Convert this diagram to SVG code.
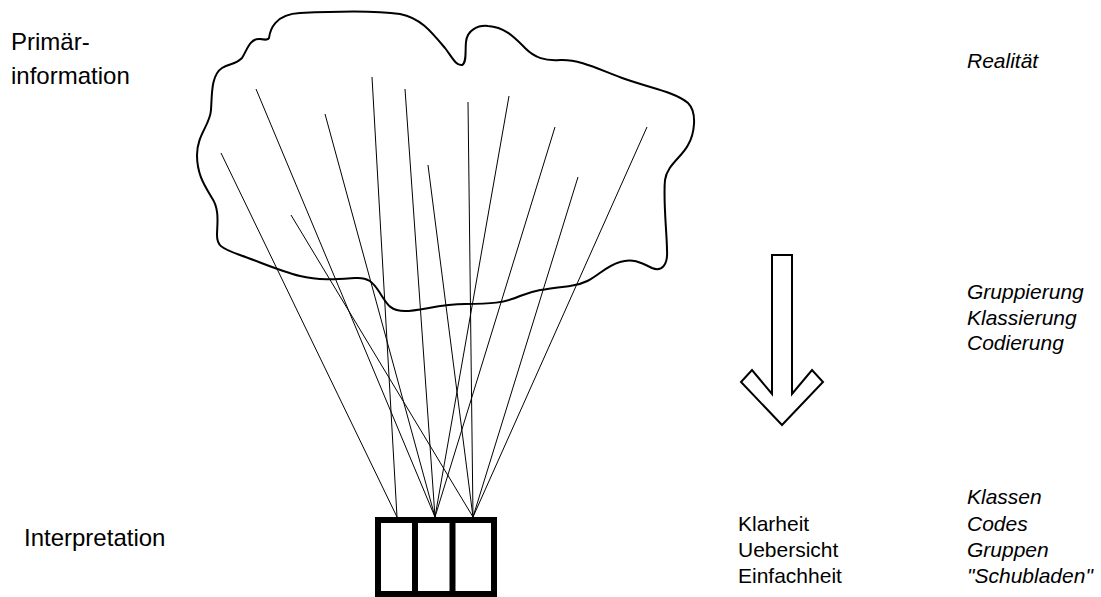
<svg xmlns="http://www.w3.org/2000/svg" width="1101" height="597" viewBox="0 0 1101 597">
<style>
.lbl{font-family:"Liberation Sans",Arial,sans-serif;font-size:24px;fill:#000}
.txt{font-family:"Liberation Sans",Arial,sans-serif;font-size:21px;fill:#000}
.it{font-style:italic}
.ray{stroke:#000;stroke-width:1;fill:none}
</style>
<rect width="1101" height="597" fill="#fff"/>
<g id="cloud">
<path d="M300,13 C340,11 380,11 400,14 C420,18 430,30 445,48 C452,57 456,66 462,65 C467,63 465,50 466,42 C467,30 478,25 488,26 C505,27 515,38 525,48 C535,58 545,61 560,60 C580,59 600,70 625,79 C650,88 675,92 688,103 C698,113 694,135 688,145 C682,157 667,165 665,180 C663,200 667,235 667,250 C668,265 662,272 652,268 C640,262 632,258 620,262 C600,268 595,283 570,286 C545,289 535,290 520,296 C505,303 490,304 465,304 C440,304 420,311 405,311 C390,311 387,304 380,293 C373,282 368,277 355,278 C340,279 320,281 300,276 C280,271 260,262 240,255 C220,248 217,245 217,235 C217,225 220,210 212,198 C205,186 197,175 197,155 C197,135 210,125 211,110 C212,95 211,75 222,68 C230,63 235,65 242,58 C247,50 250,38 260,39 C266,40 268,40 269,38 C270,30 275,14 300,13 Z" fill="none" stroke="#000" stroke-width="2"/>
</g>
<g id="connectors">
<line class="ray" x1="221" y1="153" x2="397" y2="517"/>
<line class="ray" x1="256" y1="89" x2="435" y2="517"/>
<line class="ray" x1="291" y1="215" x2="473" y2="517"/>
<line class="ray" x1="325" y1="114" x2="435" y2="517"/>
<line class="ray" x1="372" y1="77" x2="397" y2="517"/>
<line class="ray" x1="405" y1="89" x2="435" y2="517"/>
<line class="ray" x1="428" y1="165" x2="473" y2="517"/>
<line class="ray" x1="468" y1="102" x2="473" y2="517"/>
<line class="ray" x1="509" y1="96" x2="435" y2="517"/>
<line class="ray" x1="555" y1="127" x2="435" y2="517"/>
<line class="ray" x1="578" y1="177" x2="473" y2="517"/>
<line class="ray" x1="647" y1="127" x2="473" y2="517"/>
</g>
<g id="box">
<rect x="378" y="520" width="116" height="74" fill="#fff" stroke="#000" stroke-width="6"/>
<line x1="415" y1="520" x2="415" y2="594" stroke="#000" stroke-width="6"/>
<line x1="452.5" y1="520" x2="452.5" y2="594" stroke="#000" stroke-width="6"/>
</g>
<g id="arrow">
<polygon points="772,255 792,255 792,394 812,370 823,382 782,425 741,382 752,370 772,394" fill="#fff" stroke="#000" stroke-width="2" stroke-linejoin="miter"/>
</g>
<g id="label-primaer">
<text class="lbl" x="11" y="50">Primär-</text>
<text class="lbl" x="11" y="84">information</text>
</g>
<g id="label-interpretation">
<text class="lbl" x="24" y="546">Interpretation</text>
</g>
<g id="label-realitaet">
<text class="txt it" x="967" y="68">Realität</text>
</g>
<g id="label-process">
<text class="txt it" x="967" y="299">Gruppierung</text>
<text class="txt it" x="967" y="325">Klassierung</text>
<text class="txt it" x="967" y="350">Codierung</text>
</g>
<g id="label-qualities">
<text class="txt" x="738" y="531">Klarheit</text>
<text class="txt" x="738" y="557">Uebersicht</text>
<text class="txt" x="738" y="583">Einfachheit</text>
</g>
<g id="label-results">
<text class="txt it" x="967" y="504">Klassen</text>
<text class="txt it" x="967" y="531">Codes</text>
<text class="txt it" x="967" y="557">Gruppen</text>
<text class="txt it" x="967" y="583">"Schubladen"</text>
</g>
</svg>
